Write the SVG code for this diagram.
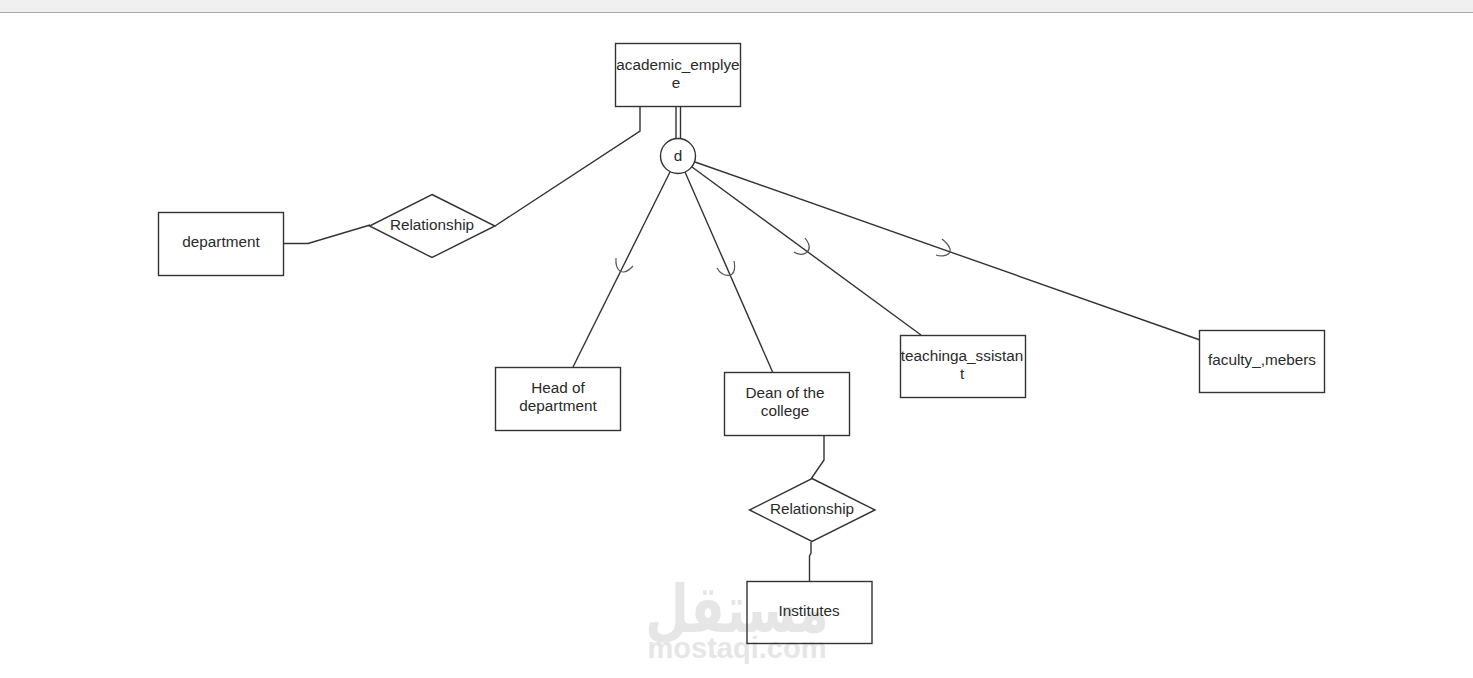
<svg xmlns="http://www.w3.org/2000/svg" width="1473" height="678" viewBox="0 0 1473 678">
<style>
.s{fill:#fff;stroke:#333;stroke-width:1.4}
.c{fill:none;stroke:#333;stroke-width:1.4}
.a{fill:none;stroke:#555;stroke-width:1.2}
text{font-family:"Liberation Sans",Arial,sans-serif;font-size:15.3px;fill:#2a2a2a;text-anchor:middle}
.w{fill:#e6e6e6;font-weight:700}
</style>
<rect width="1473" height="12" fill="#f0f0f0"/>
<rect y="12" width="1473" height="1" fill="#aaa"/>
<g id="connectors">
<path class="c" d="M640 106V131L495 226"/>
<path class="c" d="M283 243.500H308L370 225"/>
<path class="c" d="M676 106V139M680.500 106V139"/>
<path class="c" d="M670 172L573 367"/>
<path class="c" d="M685 172L773 373"/>
<path class="c" d="M692 167L921 335"/>
<path class="c" d="M695 162L1200 340"/>
<path class="c" d="M824 436V460L811 479"/>
<path class="c" d="M811 542V553L809.500 556V581"/>
<path class="a" d="M616 258C615 270 622 278 633 266"/>
<path class="a" d="M717 268C722 278 738 280 734 261"/>
<path class="a" d="M794 252C802 258 816 252 805 238"/>
<path class="a" d="M936 255C944 258 960 254 942 239"/>
</g>
<g id="watermark">
<text class="w" transform="translate(737 632) scale(.76 1)" style="font-family:'DejaVu Sans',sans-serif;font-size:66px">مستقل</text>
<text class="w" x="737" y="658" style="font-size:29px">mostaqi.com</text>
</g>
<g id="academic_emplyee"><rect class="s" x="615.500" y="43.500" width="125" height="63"/><text x="678" y="70">academic_emplye</text><text x="676" y="88">e</text></g>
<g id="d"><circle class="s" cx="678" cy="156" r="17.500"/><text x="678" y="161">d</text></g>
<g id="department"><rect class="s" x="158.500" y="212.500" width="125" height="63"/><text x="221" y="247">department</text></g>
<g id="relationship1"><path class="s" d="M432 194.500L495 226L432 257.500L369.500 226Z"/><text x="432" y="230">Relationship</text></g>
<g id="head"><rect class="s" x="495.500" y="367.500" width="125" height="63"/><text x="558" y="393">Head of</text><text x="558" y="411">department</text></g>
<g id="dean"><rect class="s" x="724.500" y="372.500" width="125" height="63"/><text x="785" y="398">Dean of the</text><text x="785" y="416">college</text></g>
<g id="teaching"><rect class="s" x="900.500" y="335.500" width="125" height="62"/><text x="962" y="361">teachinga_ssistan</text><text x="962" y="379">t</text></g>
<g id="faculty"><rect class="s" x="1199.500" y="330.500" width="125" height="62"/><text x="1262" y="365">faculty_,mebers</text></g>
<g id="relationship2"><path class="s" d="M812 478.500L875 510L812 541.500L749.500 510Z"/><text x="812" y="514">Relationship</text></g>
<g id="institutes"><rect class="s" x="747" y="581.500" width="125" height="62" style="fill:none"/><text x="809" y="616">Institutes</text></g>
</svg>
